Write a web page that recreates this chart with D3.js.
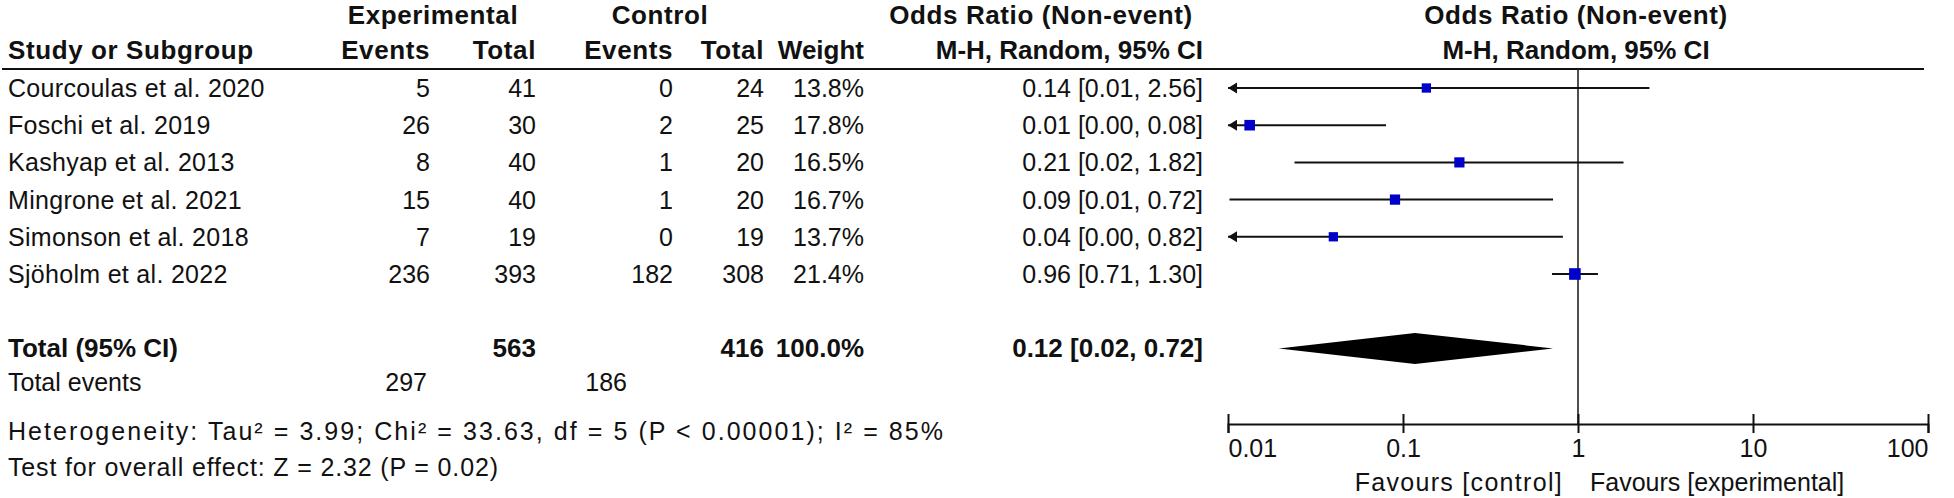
<!DOCTYPE html>
<html>
<head>
<meta charset="utf-8">
<script src="https://cdn.jsdelivr.net/npm/d3@7"></script>
<style>
  html, body { margin: 0; padding: 0; background: #fff; }
  svg { display: block; }
  text { font-family: "Liberation Sans", Arial, sans-serif; fill: #111; }
</style>
</head>
<body>
<script>
// ---------- data ----------
const studies   = ["Courcoulas et al. 2020", "Foschi et al. 2019", "Kashyap et al. 2013",
                   "Mingrone et al. 2021", "Simonson et al. 2018", "Sjöholm et al. 2022"];
const expEvents = [5, 26, 8, 15, 7, 236];
const expTotal  = [41, 30, 40, 40, 19, 393];
const ctlEvents = [0, 2, 1, 1, 0, 182];
const ctlTotal  = [24, 25, 20, 20, 19, 308];
const weights   = [13.8, 17.8, 16.5, 16.7, 13.7, 21.4];
const ciLabels  = ["0.14 [0.01, 2.56]", "0.01 [0.00, 0.08]", "0.21 [0.02, 1.82]",
                   "0.09 [0.01, 0.72]", "0.04 [0.00, 0.82]", "0.96 [0.71, 1.30]"];
const orPoint   = [0.136, 0.0133, 0.21, 0.09, 0.04, 0.96];
const ciLower   = [0.008, 0.002, 0.024, 0.0102, 0.002, 0.71];
const ciUpper   = [2.56, 0.08, 1.82, 0.72, 0.82, 1.30];
const totalLabels = ["563", "416", "100.0%", "0.12 [0.02, 0.72]"];
const totalDiamond = [0.0195, 0.117, 0.72];   // lower, point, upper
const totalEvents = [297, 186];
const tickValues = [0.01, 0.1, 1, 10, 100];
const tickLabels = ["0.01", "0.1", "1", "10", "100"];
const heterogeneity = "Heterogeneity: Tau\u00B2 = 3.99; Chi\u00B2 = 33.63, df = 5 (P < 0.00001); I\u00B2 = 85%";
const overallEffect = "Test for overall effect: Z = 2.32 (P = 0.02)";

// ---------- layout ----------
const W = 1954, H = 498;
const svg = d3.select("body").append("svg").attr("width", W).attr("height", H);
svg.append("rect").attr("width", W).attr("height", H).attr("fill", "#fff");

const FS = 25, FSB = 26;
const x = d3.scaleLog().domain([0.01, 100]).range([1228, 1928]);
const y = d3.scaleLinear().domain([0, 1]).range([88, 125.2]);   // row index -> y
const sq = d3.scaleSqrt().domain([0, 21.4]).range([0, 11.6]);

const col = { name: 8, expEv: 430, expTot: 536, ctlEv: 673, ctlTot: 764, wt: 864, ci: 1203 };

function txt(g, s, xx, yy, anchor, bold, size, ls) {
  const t = g.append("text").attr("x", xx).attr("y", yy)
    .attr("text-anchor", anchor || "start")
    .attr("font-weight", bold ? "bold" : "normal")
    .attr("font-size", size || (bold ? FSB : FS))
    .text(s);
  if (ls !== undefined) t.attr("letter-spacing", ls);
  return t;
}

// headers
const hd = svg.append("g");
const HLS = 0.6;
txt(hd, "Experimental", 433, 24, "middle", true, null, HLS);
txt(hd, "Control", 660, 24, "middle", true, null, HLS);
txt(hd, "Odds Ratio (Non-event)", 1041, 24, "middle", true, null, HLS);
txt(hd, "Odds Ratio (Non-event)", 1576, 24, "middle", true, null, HLS);
txt(hd, "Study or Subgroup", col.name, 59, "start", true, null, HLS);
txt(hd, "Events", col.expEv, 59, "end", true, null, HLS);
txt(hd, "Total", col.expTot, 59, "end", true, null, HLS);
txt(hd, "Events", col.ctlEv, 59, "end", true, null, HLS);
txt(hd, "Total", col.ctlTot, 59, "end", true, null, HLS);
txt(hd, "Weight", col.wt, 59, "end", true);
txt(hd, "M-H, Random, 95% CI", col.ci, 59, "end", true);
txt(hd, "M-H, Random, 95% CI", 1576, 59, "middle", true);

svg.append("line").attr("x1", 2).attr("x2", 1924).attr("y1", 69).attr("y2", 69)
  .attr("stroke", "#111").attr("stroke-width", 2);

// null line
svg.append("line").attr("x1", x(1)).attr("x2", x(1)).attr("y1", 69).attr("y2", 424)
  .attr("stroke", "#222").attr("stroke-width", 1.6);

// study rows
const rows = svg.append("g");
studies.forEach((s, i) => {
  const yy = y(i), tb = yy + 9;
  txt(rows, s, col.name, tb, "start", false, null, 0.3);
  txt(rows, expEvents[i], col.expEv, tb, "end");
  txt(rows, expTotal[i], col.expTot, tb, "end");
  txt(rows, ctlEvents[i], col.ctlEv, tb, "end");
  txt(rows, ctlTotal[i], col.ctlTot, tb, "end");
  txt(rows, d3.format(".1f")(weights[i]) + "%", col.wt, tb, "end");
  txt(rows, ciLabels[i], col.ci, tb, "end");

  const lo = Math.max(ciLower[i], 0.01), hi = Math.min(ciUpper[i], 100);
  rows.append("line").attr("x1", x(lo)).attr("x2", x(hi)).attr("y1", yy).attr("y2", yy)
    .attr("stroke", "#111").attr("stroke-width", 2);
  if (ciLower[i] < 0.01) {
    const ax = x(0.01);
    rows.append("path").attr("d", `M${ax},${yy} L${ax + 9},${yy - 5.5} L${ax + 9},${yy + 5.5} Z`)
      .attr("fill", "#111");
  }
  const s2 = sq(weights[i]);
  rows.append("rect").attr("x", x(orPoint[i]) - s2 / 2).attr("y", yy - s2 / 2)
    .attr("width", s2).attr("height", s2).attr("fill", "#0000c8");
});

// total row
const tY = y(7), tB = tY + 9;
txt(svg, "Total (95% CI)", col.name, tB, "start", true);
txt(svg, totalLabels[0], col.expTot, tB, "end", true);
txt(svg, totalLabels[1], col.ctlTot, tB, "end", true);
txt(svg, totalLabels[2], col.wt, tB, "end", true);
txt(svg, totalLabels[3], col.ci, tB, "end", true);
const [dl, dp, du] = totalDiamond;
svg.append("path")
  .attr("d", `M${x(dl)},${tY} L${x(dp)},${tY - 15.5} L${x(du)},${tY} L${x(dp)},${tY + 15.5} Z`)
  .attr("fill", "#000");

// footer texts
txt(svg, "Total events", col.name, 391);
txt(svg, totalEvents[0], col.expEv - 3, 391, "end");
txt(svg, totalEvents[1], 627, 391, "end");
txt(svg, heterogeneity, col.name, 440).attr("textLength", 935).attr("lengthAdjust", "spacing");
txt(svg, overallEffect, col.name, 476).attr("textLength", 490).attr("lengthAdjust", "spacing");

// axis
const axis = d3.axisBottom(x).tickValues(tickValues).tickFormat((d, i) => tickLabels[i])
  .tickSizeOuter(0).tickSize(9);
const ag = svg.append("g").attr("transform", "translate(0,424)").call(axis);
ag.select(".domain").attr("stroke", "#111").attr("stroke-width", 2);
ag.selectAll(".tick line").attr("y1", -10).attr("y2", 9).attr("stroke", "#111").attr("stroke-width", 2);
ag.selectAll(".tick text")
  .attr("y", 33).attr("dy", 0)
  .attr("font-size", FS).attr("font-family", "Liberation Sans, Arial, sans-serif").attr("fill", "#111")
  .attr("text-anchor", (d, i) => i === 0 ? "start" : (i === tickValues.length - 1 ? "end" : "middle"));

txt(svg, "Favours [control]", x(1) - 15, 491, "end", false, null, 1.3);
txt(svg, "Favours [experimental]", x(1) + 12, 491, "start", false, null, 0);
</script>
</body>
</html>
